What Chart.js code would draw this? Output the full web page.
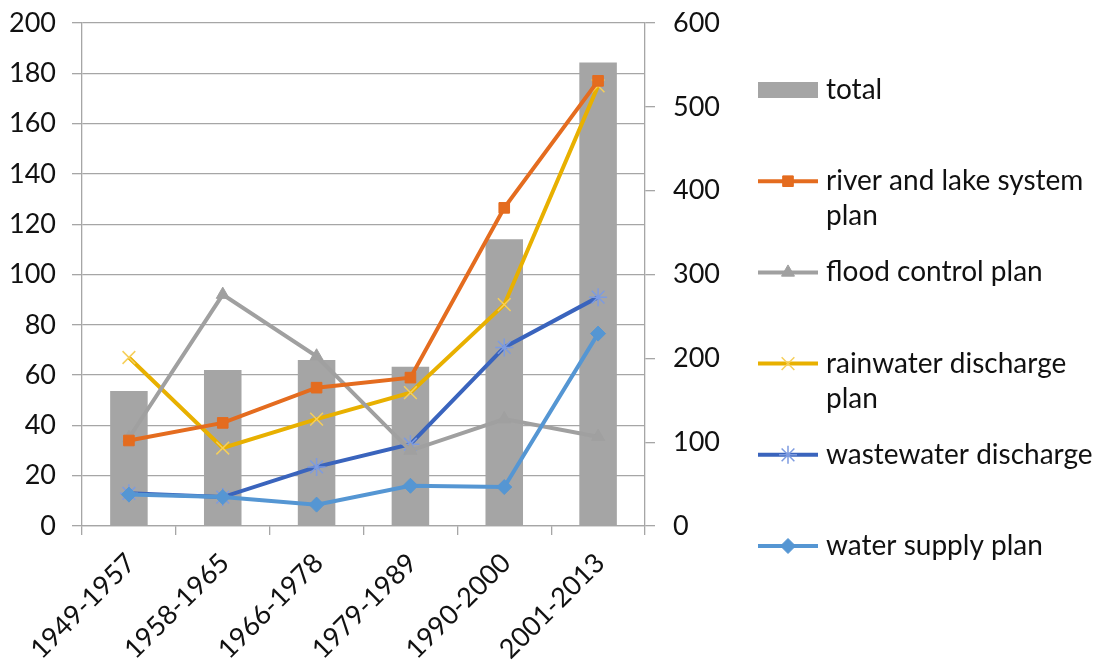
<!DOCTYPE html>
<html>
<head>
<meta charset="utf-8">
<script src="https://cdn.jsdelivr.net/npm/chart.js@4"></script>
<style>
  html, body { margin: 0; padding: 0; background: #ffffff; }
  #wrap { width: 1099px; height: 660px; position: relative; }
</style>
</head>
<body>
<div id="wrap"><canvas id="c"></canvas></div>
<script>
// ---- data ----
const categories = ['1949-1957', '1958-1965', '1966-1978', '1979-1989', '1990-2000', '2001-2013'];
const totalValues = [161, 186, 198, 190, 342, 553];
const riverLakeValues = [34, 41, 55, 59, 126.5, 177];
const floodControlValues = [35, 92, 67.5, 30, 42.5, 35.5];
const rainwaterValues = [67, 31, 42.5, 53, 88, 175];
const wastewaterValues = [13, 11.5, 23.5, 32.5, 71, 91];
const waterSupplyValues = [12.5, 11.5, 8.5, 16, 15.5, 76.5];
const seriesNames = ['total', 'river and lake system\nplan', 'flood control plan', 'rainwater discharge\nplan', 'wastewater discharge', 'water supply plan'];
const leftTicks = [0, 20, 40, 60, 80, 100, 120, 140, 160, 180, 200];
const rightTicks = [0, 100, 200, 300, 400, 500, 600];

const FONT = 'Lato, "Open Sans", sans-serif';
const GRID = '#a6a6a6';

const lineDs = (label, data, color, style, radius, order, ptBorder, ptBorderW) => ({
  type: 'line', label, data, yAxisID: 'y', order,
  borderColor: color, backgroundColor: color, borderWidth: 4, tension: 0, fill: false,
  pointStyle: style, pointRadius: radius, pointHoverRadius: radius,
  pointBackgroundColor: color, pointBorderColor: ptBorder || color, pointBorderWidth: ptBorderW || 1
});

const legendPlugin = {
  id: 'sideLegend',
  afterDraw(chart) {
    const ctx = chart.ctx;
    const startY = 90, step = 91.2, lineGap = 35;
    const x0 = 758, x1 = 818, tx = 826;
    ctx.save();
    ctx.font = '28px ' + FONT;
    ctx.textBaseline = 'middle';
    ctx.textAlign = 'left';
    chart.data.datasets.forEach((ds, i) => {
      const y = startY + i * step;
      if (ds.type === 'bar') {
        ctx.fillStyle = ds.backgroundColor;
        ctx.fillRect(x0, y - 8, x1 - x0, 16);
      } else {
        ctx.strokeStyle = ds.borderColor;
        ctx.lineWidth = ds.borderWidth;
        ctx.beginPath(); ctx.moveTo(x0, y); ctx.lineTo(x1, y); ctx.stroke();
        ctx.fillStyle = ds.pointBackgroundColor;
        ctx.strokeStyle = ds.pointBorderColor;
        ctx.lineWidth = ds.pointBorderWidth;
        Chart.helpers.drawPoint(ctx, {pointStyle: ds.pointStyle, radius: ds.pointRadius, rotation: 0, borderWidth: ds.pointBorderWidth}, (x0 + x1) / 2, y);
      }
      ctx.fillStyle = '#111';
      String(ds.label).split('\n').forEach((ln, k) => ctx.fillText(ln, tx, y + k * lineGap));
    });
    ctx.restore();
  }
};

const noVPad = (width) => (s) => { s.width = width; s.paddingTop = 0; s.paddingBottom = 0; };

new Chart(document.getElementById('c'), {
  data: {
    labels: categories,
    datasets: [
      { type: 'bar', label: seriesNames[0], data: totalValues, yAxisID: 'y1', order: 10,
        backgroundColor: '#a5a5a5', barPercentage: 0.4, categoryPercentage: 1.0 },
      lineDs(seriesNames[1], riverLakeValues, '#e46c1f', 'rect', 7.5, 2),
      lineDs(seriesNames[2], floodControlValues, '#a0a0a0', 'triangle', 7.5, 3),
      lineDs(seriesNames[3], rainwaterValues, '#e8b000', 'crossRot', 9, 4, '#f6cf5a', 1.5),
      lineDs(seriesNames[4], wastewaterValues, '#3a64bd', 'star', 9, 5, '#7d9be0', 1.5),
      lineDs(seriesNames[5], waterSupplyValues, '#5596d3', 'rectRot', 7.5, 1)
    ]
  },
  options: {
    responsive: true, maintainAspectRatio: false, animation: false,
    layout: { autoPadding: false, padding: { left: 0, top: 23, right: 364, bottom: 0 } },
    plugins: { legend: { display: false }, tooltip: { enabled: false } },
    scales: {
      x: {
        offset: true,
        grid: { offset: true, drawOnChartArea: false, drawTicks: true, tickLength: 9, color: GRID, lineWidth: 1.3 },
        border: { display: true, color: GRID, width: 1.3 },
        ticks: { color: '#111', font: { family: FONT, size: 27 }, minRotation: 45, maxRotation: 45, padding: 12, labelOffset: 2 },
        afterFit(s) { s.height = 134; }
      },
      y: {
        position: 'left', min: 0, max: 200,
        afterBuildTicks(s) { s.ticks = leftTicks.map(v => ({ value: v })); },
        grid: { color: GRID, lineWidth: 1.3, tickLength: 10 },
        border: { display: true, color: GRID, width: 1.3 },
        ticks: { color: '#111', font: { family: FONT, size: 27 }, padding: 16 },
        afterFit: noVPad(82)
      },
      y1: {
        position: 'right', min: 0, max: 600,
        afterBuildTicks(s) { s.ticks = rightTicks.map(v => ({ value: v })); },
        grid: { drawOnChartArea: false, color: GRID, lineWidth: 1.3, tickLength: 10 },
        border: { display: true, color: GRID, width: 1.3 },
        ticks: { color: '#111', font: { family: FONT, size: 27 }, padding: 18 },
        afterFit: noVPad(90)
      }
    }
  },
  plugins: [legendPlugin]
});
</script>
</body>
</html>
